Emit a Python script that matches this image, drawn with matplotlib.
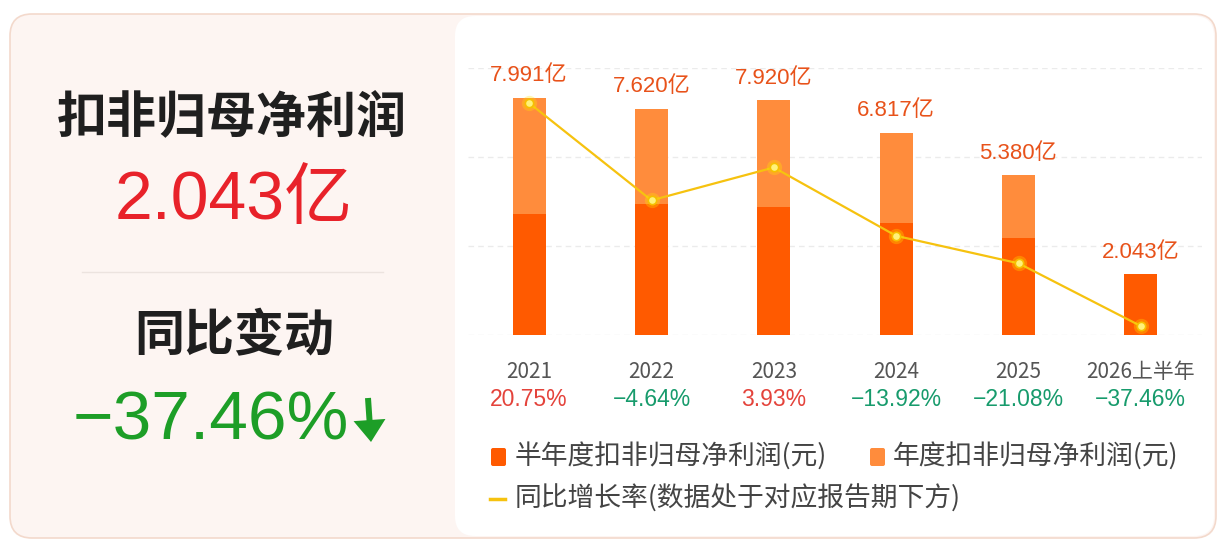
import matplotlib
matplotlib.use('Agg')
import matplotlib.pyplot as plt
from matplotlib.patches import FancyBboxPatch, FancyArrow

plt.rcParams['font.family'] = ['Noto Sans CJK SC', 'DejaVu Sans']
num_font = ['Liberation Sans', 'Noto Sans CJK SC', 'DejaVu Sans']

# data (亿元 / %)
periods = ['2021', '2022', '2023', '2024', '2025', '2026上半年']
annual_profit = [7.991, 7.620, 7.920, 6.817, 5.380, None]
half_profit = [4.09, 4.40, 4.33, 3.76, 3.267, 2.043]
yoy_rate = [20.75, -4.64, 3.93, -13.92, -21.08, -37.46]
headline_value = '2.043亿'
headline_change = '−37.46%'

dark_orange = '#ff5a00'
light_orange = '#ff8c3c'
line_yellow = '#f6c20f'
up_red = '#e4433b'
down_green = '#179b6c'

fig = plt.figure(figsize=(12.28, 5.54), dpi=100)

# background canvas in pixel units
bg = fig.add_axes([0, 0, 1, 1], zorder=0)
bg.set_xlim(0, 1228)
bg.set_ylim(554, 0)
bg.axis('off')
bg.add_patch(FancyBboxPatch((10, 14), 1206, 524, boxstyle='round,pad=0,rounding_size=22',
                            fc='#fdf5f2', ec='#f3d9cc', lw=1.2))
bg.add_patch(FancyBboxPatch((455, 16), 759, 520, boxstyle='round,pad=0,rounding_size=20',
                            fc='white', ec='none'))

# left summary panel
bg.text(232, 118, '扣非归母净利润', fontsize=36, fontweight='bold', color='#1f1f1f',
        ha='center', va='center')
bg.text(234, 201, headline_value, fontsize=49, color='#e8222a', ha='center', va='center',
        family=num_font)
bg.plot([82, 383], [272, 272], color='#ece3df', lw=1)
bg.text(234, 337, '同比变动', fontsize=36, fontweight='bold', color='#1f1f1f',
        ha='center', va='center')
bg.text(211, 421, headline_change, fontsize=50, color='#1d9e27', ha='center', va='center',
        family=num_font)
bg.add_patch(FancyArrow(368, 398, 3, 44, width=6, head_width=32, head_length=22,
                        length_includes_head=True, color='#1d9e27', lw=0))

# chart
ax = fig.add_axes([468 / 1228, 1 - 335 / 554, 734 / 1228, 267 / 554], zorder=1)
ax.patch.set_alpha(0)
x = list(range(len(periods)))
xa = [i for i in x if annual_profit[i] is not None]
ya = [annual_profit[i] for i in xa]
ax.bar(xa, ya, width=0.27, color=light_orange, zorder=2)
ax.bar(x, half_profit, width=0.27, color=dark_orange, zorder=3)
ax.set_xlim(-0.5, 5.5)
ax.set_ylim(0, 9)
ax.set_yticks([0, 3, 6, 9])
ax.grid(axis='y', ls=(0, (4, 3)), color='#ebebeb', lw=1)
ax.set_axisbelow(True)
ax.tick_params(length=0, labelleft=False, labelbottom=False)
for s in ax.spines.values():
    s.set_visible(False)

for i in x:
    top = annual_profit[i] if annual_profit[i] is not None else half_profit[i]
    ax.annotate(f'{top:.3f}亿', xy=(i, top), xytext=(0, 22), textcoords='offset pixels',
                ha='center', va='center', fontsize=16, color='#e8521a', family=num_font)
    ax.annotate(periods[i], xy=(i, 0), xytext=(0, -37), textcoords='offset pixels',
                ha='center', va='center', fontsize=15, color='#555555',
                annotation_clip=False)
    r = yoy_rate[i]
    ax.annotate(f'{r:.2f}%'.replace('-', '−'), xy=(i, 0), xytext=(0, -65),
                textcoords='offset pixels', ha='center', va='center', fontsize=16.5,
                color=up_red if r >= 0 else down_green, annotation_clip=False,
                family=num_font)

ax2 = ax.twinx()
ax2.set_ylim(-39.8, 29.9)
ax2.axis('off')
ax2.plot(x, yoy_rate, color=line_yellow, lw=1.6, zorder=4)
ax2.plot(x, yoy_rate, 'o', ms=11, color='#ffe600', alpha=0.3, mew=0, zorder=5)
ax2.plot(x, yoy_rate, 'o', ms=6, mfc='#fff27a', mec='#f5c000', mew=1.2, zorder=6)

# legend
bg.add_patch(FancyBboxPatch((491, 448), 15, 18, boxstyle='round,pad=0,rounding_size=2',
                            fc=dark_orange, ec='none'))
bg.text(515, 457, '半年度扣非归母净利润(元)', fontsize=19.3, color='#444444', va='center')
bg.add_patch(FancyBboxPatch((870, 448), 15, 18, boxstyle='round,pad=0,rounding_size=2',
                            fc=light_orange, ec='none'))
bg.text(893, 457, '年度扣非归母净利润(元)', fontsize=19.3, color='#444444', va='center')
bg.plot([490, 505], [499, 499], color=line_yellow, lw=2.5)
bg.text(515, 499, '同比增长率(数据处于对应报告期下方)', fontsize=19.3, color='#444444',
        va='center')

fig.savefig('out.png', dpi=100)
